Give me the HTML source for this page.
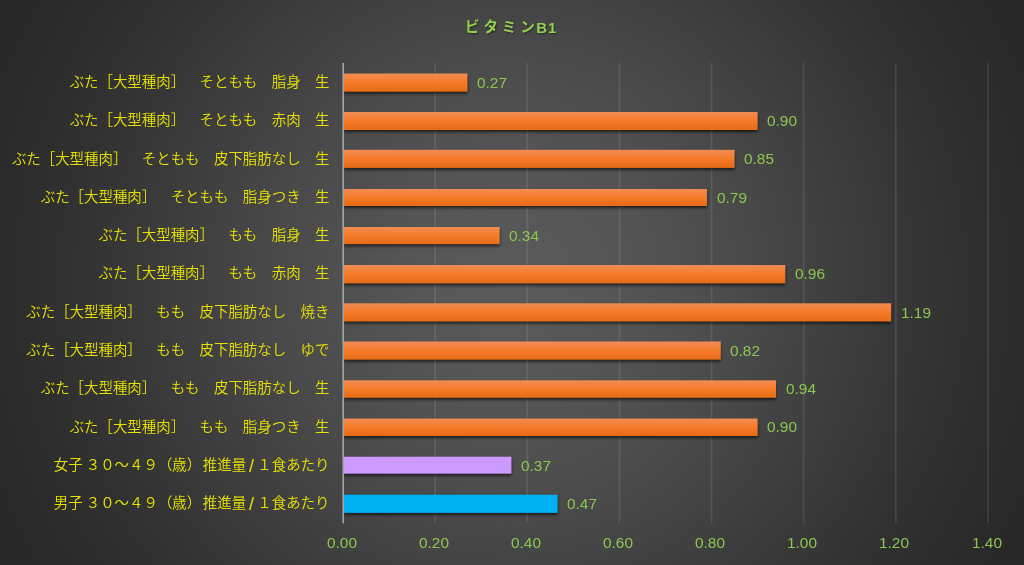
<!DOCTYPE html>
<html lang="ja">
<head>
<meta charset="utf-8">
<title>ビタミンB1</title>
<style>
html,body{margin:0;padding:0;}
body{width:1024px;height:565px;overflow:hidden;position:relative;background:#3a3a3a;
 font-family:"Liberation Sans","Noto Sans CJK JP",sans-serif;}
#chart{position:absolute;left:0;top:0;width:1024px;height:565px;overflow:hidden;
 background:radial-gradient(circle 640px at 512px 282.5px, rgb(89.0,89.0,89.0) 0px, rgb(88.9,88.9,88.9) 16px, rgb(88.6,88.6,88.6) 32px, rgb(88.2,88.2,88.2) 48px, rgb(87.6,87.6,87.6) 64px, rgb(86.8,86.8,86.8) 80px, rgb(85.9,85.9,85.9) 96px, rgb(84.9,84.9,84.9) 112px, rgb(83.7,83.7,83.7) 128px, rgb(82.4,82.4,82.4) 144px, rgb(81.0,81.0,81.0) 160px, rgb(79.6,79.6,79.6) 176px, rgb(78.0,78.0,78.0) 192px, rgb(76.3,76.3,76.3) 208px, rgb(74.6,74.6,74.6) 224px, rgb(72.9,72.9,72.9) 240px, rgb(71.0,71.0,71.0) 256px, rgb(69.2,69.2,69.2) 272px, rgb(67.3,67.3,67.3) 288px, rgb(65.4,65.4,65.4) 304px, rgb(63.5,63.5,63.5) 320px, rgb(61.6,61.6,61.6) 336px, rgb(59.7,59.7,59.7) 352px, rgb(57.8,57.8,57.8) 368px, rgb(56.0,56.0,56.0) 384px, rgb(54.1,54.1,54.1) 400px, rgb(52.4,52.4,52.4) 416px, rgb(50.7,50.7,50.7) 432px, rgb(49.0,49.0,49.0) 448px, rgb(47.4,47.4,47.4) 464px, rgb(46.0,46.0,46.0) 480px, rgb(44.6,44.6,44.6) 496px, rgb(43.3,43.3,43.3) 512px, rgb(42.1,42.1,42.1) 528px, rgb(41.1,41.1,41.1) 544px, rgb(40.2,40.2,40.2) 560px, rgb(39.4,39.4,39.4) 576px, rgb(38.8,38.8,38.8) 592px, rgb(38.4,38.4,38.4) 608px, rgb(38.1,38.1,38.1) 624px, rgb(38.0,38.0,38.0) 640px);}
.title{position:absolute;left:465.0px;top:15.0px;height:24px;line-height:24px;white-space:nowrap;
 color:#92d050;font-weight:bold;font-size:14.6px;letter-spacing:3.8px;
 text-shadow:0.8px 1.4px 2px rgba(0,0,0,.5);}
.title span{font-size:15px;letter-spacing:0.9px;margin-left:-2.4px;position:relative;top:.7px;}
#plot{position:absolute;left:0;top:0;}
.cat{position:absolute;left:0;width:329.5px;height:24px;line-height:24px;text-align:right;white-space:nowrap;
 color:#e6e200;font-size:14.45px;font-weight:350;text-spacing-trim:space-all;font-kerning:none;}
.cat u{text-decoration:none;letter-spacing:-1px;}
.cat b{font-weight:inherit;margin-left:1.6px;}
.cat i{font-style:normal;display:inline-block;width:7.2px;text-align:center;font-size:18px;line-height:20px;position:relative;top:2.0px;left:1.7px;}
.val{position:absolute;height:24px;line-height:24px;color:#8cc651;font-size:15.4px;white-space:nowrap;}
.tick{position:absolute;top:531.2px;width:60px;height:24px;line-height:24px;text-align:center;color:#8cc651;font-size:15.4px;}
.cat,.val,.tick,.title{will-change:transform;}
</style>
</head>
<body>
<div id="chart">
<div class="title">ビタミン<span>B1</span></div>
<svg id="plot" width="1024" height="565" viewBox="0 0 1024 565">
<defs>
<linearGradient id="og" x1="0" y1="0" x2="0" y2="1"><stop offset="0" stop-color="#f18c55"/><stop offset=".5" stop-color="#f67b28"/><stop offset="1" stop-color="#e56b17"/></linearGradient>
<filter id="sh" filterUnits="userSpaceOnUse" x="0" y="0" width="1024" height="565" color-interpolation-filters="sRGB">
<feGaussianBlur in="SourceAlpha" stdDeviation="1.8" result="b1"/><feOffset in="b1" dx="0" dy="2.4" result="o1"/>
<feComponentTransfer in="o1" result="s1"><feFuncA type="linear" slope=".63"/></feComponentTransfer>
<feMerge><feMergeNode in="s1"/><feMergeNode in="SourceGraphic"/></feMerge>
</filter>
</defs>
<g fill="#f2f2f2" fill-opacity=".105">
<rect x="434.37" y="63.0" width="1.7" height="460.0"/>
<rect x="526.49" y="63.0" width="1.7" height="460.0"/>
<rect x="618.61" y="63.0" width="1.7" height="460.0"/>
<rect x="710.73" y="63.0" width="1.7" height="460.0"/>
<rect x="802.85" y="63.0" width="1.7" height="460.0"/>
<rect x="894.97" y="63.0" width="1.7" height="460.0"/>
<rect x="987.09" y="63.0" width="1.7" height="460.0"/>
</g>
<g filter="url(#sh)">
<rect x="343.9" y="73.5" width="123.56" height="18.2" fill="url(#og)"/>
<rect x="343.9" y="112.0" width="413.74" height="18.0" fill="url(#og)"/>
<rect x="343.9" y="149.8" width="390.71" height="18.1" fill="url(#og)"/>
<rect x="343.9" y="189.0" width="363.07" height="17.0" fill="url(#og)"/>
<rect x="343.9" y="227.0" width="155.80" height="17.2" fill="url(#og)"/>
<rect x="343.9" y="265.0" width="441.38" height="18.4" fill="url(#og)"/>
<rect x="343.9" y="303.3" width="547.31" height="18.2" fill="url(#og)"/>
<rect x="343.9" y="341.5" width="376.89" height="18.2" fill="url(#og)"/>
<rect x="343.9" y="380.3" width="432.16" height="17.5" fill="url(#og)"/>
<rect x="343.9" y="418.5" width="413.74" height="17.5" fill="url(#og)"/>
<rect x="343.9" y="456.7" width="167.55" height="17.0" fill="#cc99ff"/>
<rect x="343.9" y="494.7" width="213.70" height="18.2" fill="#00b0f0"/>
</g>
<rect x="342.4" y="63.0" width="1.55" height="460.3" fill="#a8a8a8"/>
</svg>
<div class="cat" style="top:70.0px">ぶた［大型種肉］　そともも　脂身　生</div>
<div class="val" style="top:70.7px;left:477.0px">0.27</div>
<div class="cat" style="top:108.3px">ぶた［大型種肉］　そともも　赤肉　生</div>
<div class="val" style="top:109.0px;left:767.1px">0.90</div>
<div class="cat" style="top:146.6px">ぶた［大型種肉］　そともも　皮下脂肪なし　生</div>
<div class="val" style="top:147.3px;left:744.1px">0.85</div>
<div class="cat" style="top:184.9px">ぶた［大型種肉］　そともも　脂身つき　生</div>
<div class="val" style="top:185.6px;left:716.5px">0.79</div>
<div class="cat" style="top:223.2px">ぶた［大型種肉］　もも　脂身　生</div>
<div class="val" style="top:223.9px;left:509.2px">0.34</div>
<div class="cat" style="top:261.4px">ぶた［大型種肉］　もも　赤肉　生</div>
<div class="val" style="top:262.2px;left:794.8px">0.96</div>
<div class="cat" style="top:299.7px">ぶた［大型種肉］　もも　皮下脂肪なし　焼き</div>
<div class="val" style="top:300.5px;left:900.7px">1.19</div>
<div class="cat" style="top:338.0px">ぶた［大型種肉］　もも　皮下脂肪なし　ゆで</div>
<div class="val" style="top:338.8px;left:730.3px">0.82</div>
<div class="cat" style="top:376.3px">ぶた［大型種肉］　もも　皮下脂肪なし　生</div>
<div class="val" style="top:377.1px;left:785.6px">0.94</div>
<div class="cat" style="top:414.6px">ぶた［大型種肉］　もも　脂身つき　生</div>
<div class="val" style="top:415.4px;left:767.1px">0.90</div>
<div class="cat" style="top:452.9px">女子<u> </u>３０～４９（歳）<b>推進量</b><i>/</i> １食あたり</div>
<div class="val" style="top:453.7px;left:520.9px">0.37</div>
<div class="cat" style="top:491.2px">男子<u> </u>３０～４９（歳）<b>推進量</b><i>/</i> １食あたり</div>
<div class="val" style="top:492.0px;left:567.1px">0.47</div>
<div class="tick" style="left:311.7px">0.00</div>
<div class="tick" style="left:403.8px">0.20</div>
<div class="tick" style="left:495.9px">0.40</div>
<div class="tick" style="left:588.1px">0.60</div>
<div class="tick" style="left:680.2px">0.80</div>
<div class="tick" style="left:772.3px">1.00</div>
<div class="tick" style="left:864.4px">1.20</div>
<div class="tick" style="left:956.5px">1.40</div>
</div>
</body>
</html>
